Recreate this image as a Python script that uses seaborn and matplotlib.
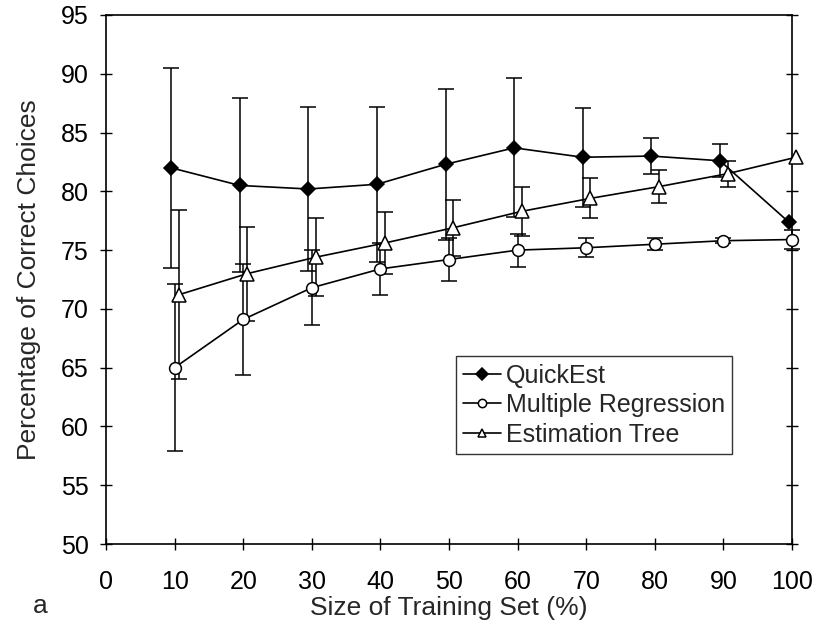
import numpy as np
import pandas as pd
import seaborn as sns
import matplotlib
matplotlib.use("Agg")
import matplotlib.pyplot as plt

# ── Data ────────────────────────────────────────────────────────────────────
train_size = [10, 20, 30, 40, 50, 60, 70, 80, 90, 100]

quickest_mean = [82.0, 80.5, 80.2, 80.6, 82.3, 83.7, 82.9, 83.0, 82.6, 77.4]
quickest_err  = [8.5, 7.4, 7.0, 6.6, 6.4, 5.9, 4.2, 1.5, 1.4, np.nan]

regression_mean = [65.0, 69.1, 71.8, 73.4, 74.2, 75.0, 75.2, 75.5, 75.8, 75.9]
regression_err  = [7.1, 4.7, 3.2, 2.2, 1.8, 1.4, 0.8, 0.5, 0.2, 0.8]

tree_mean = [71.2, 73.0, 74.4, 75.6, 76.9, 78.3, 79.4, 80.4, 81.5, 82.9]
tree_err  = [7.2, 4.0, 3.3, 2.6, 2.4, 2.1, 1.7, 1.4, 1.1, np.nan]

series_names = ['QuickEst', 'Multiple Regression', 'Estimation Tree']
y_ticks = [50, 55, 60, 65, 70, 75, 80, 85, 90, 95]
x_ticks = [0, 10, 20, 30, 40, 50, 60, 70, 80, 90, 100]

# ── Style ───────────────────────────────────────────────────────────────────
TICK_FS  = 18
LABEL_FS = 19
LEG_FS   = 18
sns.set_style('ticks')
plt.rcParams['font.family'] = ['Liberation Sans', 'DejaVu Sans']

fig = plt.figure(figsize=(8.24, 6.31), dpi=100)
ax = fig.add_axes([106 / 824, 1 - 544 / 631, 686 / 824, 529 / 631])

styles = [
    # name, mean, err, dodge, marker, size, facecolor
    (series_names[0], quickest_mean, quickest_err, -0.5, 'D', 7.5, 'black'),
    (series_names[1], regression_mean, regression_err, 0.0, 'o', 8.5, 'white'),
    (series_names[2], tree_mean, tree_err, 0.6, '^', 10, 'white'),
]

for name, mean, err, dodge, marker, ms, fc in styles:
    xs = np.array(train_size) + dodge
    df = pd.DataFrame({'x': xs, 'y': mean})
    ax.errorbar(xs, mean, yerr=err, fmt='none', ecolor='black',
                elinewidth=1.1, capsize=6, capthick=1.1, zorder=2, clip_on=False)
    sns.lineplot(data=df, x='x', y='y', ax=ax, color='black', linewidth=1.2,
                 marker=marker, markersize=ms, markerfacecolor=fc,
                 markeredgecolor='black', markeredgewidth=1.1,
                 label=name, zorder=3, clip_on=False)

ax.set_xlim(0, 100)
ax.set_ylim(50, 95)
ax.set_xticks(x_ticks)
ax.set_yticks(y_ticks)
ax.tick_params(axis='both', which='both', direction='inout', length=9,
               width=1, labelsize=TICK_FS, colors='black')
ax.tick_params(axis='y', right=True, left=True, labelright=False, pad=8)
ax.tick_params(axis='x', top=False, pad=14)
for side in ['top', 'right', 'left', 'bottom']:
    ax.spines[side].set_visible(True)
    ax.spines[side].set_linewidth(1.2)
    ax.spines[side].set_color('black')

ax.set_xlabel('Size of Training Set (%)', fontsize=LABEL_FS, labelpad=2)
ax.set_ylabel('Percentage of Correct Choices', fontsize=LABEL_FS, labelpad=14)

leg = ax.legend(loc='upper left', bbox_to_anchor=(0.51, 0.355),
                frameon=True, fancybox=False, edgecolor='black',
                fontsize=LEG_FS, handlelength=1.5, handletextpad=0.2,
                borderpad=0.3, labelspacing=0.22, borderaxespad=0)
leg.get_frame().set_linewidth(1.0)
for h in leg.legend_handles:
    h.set_markersize(6)

fig.text(40 / 824, 1 - 606 / 631, 'a', fontsize=LABEL_FS, ha='center', va='center')

fig.savefig('out.png', dpi=100)
